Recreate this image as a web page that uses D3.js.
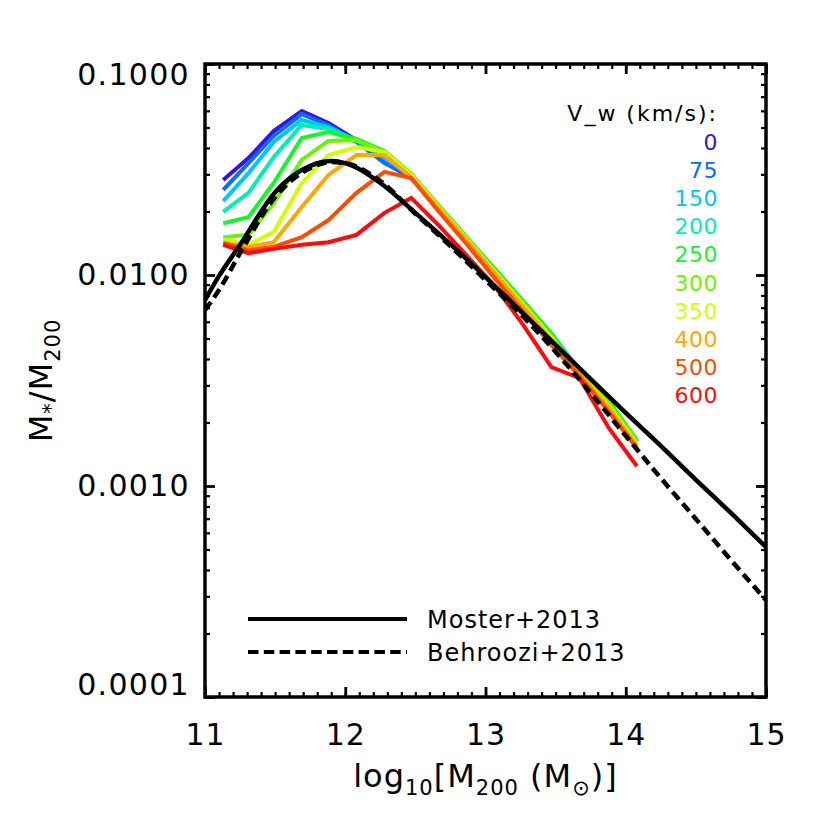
<!DOCTYPE html>
<html>
<head>
<meta charset="utf-8">
<script src="https://cdn.jsdelivr.net/npm/d3@7"></script>
<style>
body { margin: 0; background: #fff; }
text { font-family: "DejaVu Sans", sans-serif; fill: #000; }
</style>
</head>
<body>
<div class="smhm-figure"></div>
<script>
const w = 826;
const h = 826;

// halo mass bins of the simulation curves (log10 M200)
const haloMass = [11.13, 11.31, 11.49, 11.69, 11.88, 12.08, 12.28, 12.47, 12.67, 12.87, 13.07, 13.27, 13.47, 13.67, 13.88, 14.08];

// M*/M200 for each wind speed
const vw0   = [0.0282, 0.0358, 0.0481, 0.0599, 0.0525, 0.0436, 0.0343, 0.0288, 0.0208, 0.0147, 0.0102, 0.00721, 0.00508, 0.00347, 0.00242, 0.00162];
const vw75  = [0.0253, 0.0339, 0.0456, 0.0579, 0.0514, 0.0427, 0.0339, 0.0291, 0.0208, 0.0147, 0.0102, 0.00721, 0.00514, 0.00351, 0.00242, 0.00162];
const vw150 = [0.0224, 0.0304, 0.0427, 0.0543, 0.0503, 0.0432, 0.0358, 0.0294, 0.0210, 0.0148, 0.0104, 0.00737, 0.00525, 0.00355, 0.00245, 0.00163];
const vw200 = [0.0199, 0.0245, 0.0362, 0.0514, 0.0492, 0.0436, 0.0383, 0.0298, 0.0210, 0.0148, 0.0106, 0.00745, 0.00531, 0.00351, 0.00247, 0.00163];
const vw250 = [0.0176, 0.0188, 0.0273, 0.0446, 0.0476, 0.0441, 0.0387, 0.0301, 0.0212, 0.0150, 0.0106, 0.00753, 0.00525, 0.00347, 0.00253, 0.00165];
const vw300 = [0.0151, 0.0155, 0.0219, 0.0351, 0.0432, 0.0436, 0.0383, 0.0301, 0.0210, 0.0148, 0.0104, 0.00737, 0.00514, 0.00343, 0.00247, 0.00163];
const vw350 = [0.0147, 0.0139, 0.0160, 0.0273, 0.0370, 0.0404, 0.0383, 0.0298, 0.0208, 0.0147, 0.0103, 0.00721, 0.00503, 0.00340, 0.00239, 0.00158];
const vw400 = [0.0142, 0.0136, 0.0143, 0.0210, 0.0298, 0.0370, 0.0370, 0.0291, 0.0206, 0.0145, 0.0101, 0.00705, 0.00492, 0.00340, 0.00234, 0.00155];
const vw500 = [0.0142, 0.0131, 0.0136, 0.0151, 0.0182, 0.0245, 0.0308, 0.0288, 0.0199, 0.0139, 0.00957, 0.00668, 0.00466, 0.00332, 0.00224, 0.00151];
const vw600 = [0.0139, 0.0127, 0.0133, 0.0139, 0.0143, 0.0155, 0.0197, 0.0232, 0.0171, 0.0123, 0.00877, 0.00579, 0.00366, 0.00325, 0.00188, 0.00124];

const windSpeeds = ["0", "75", "150", "200", "250", "300", "350", "400", "500", "600"];
const windColors = ["#3512e6", "#0a6cff", "#00c6ff", "#00efb4", "#14f52a", "#6cf500", "#d4ff00", "#ffa600", "#ff4a00", "#ff0a0a"];
const windRatios = [vw0, vw75, vw150, vw200, vw250, vw300, vw350, vw400, vw500, vw600];

// abundance matching relations
const mosterMass  = [11.0, 11.1, 11.25, 11.5, 11.75, 11.9, 12.0, 12.25, 12.5, 12.75, 13.0, 13.25, 13.5, 13.75, 14.0, 14.25, 14.5, 14.75, 15.0];
const mosterRatio = [0.00761, 0.0099, 0.0139, 0.0247, 0.0329, 0.0347, 0.0339, 0.0273, 0.0197, 0.0140, 0.00978, 0.00675, 0.00466, 0.00321, 0.00222, 0.00155, 0.00107, 0.000745, 0.000514];
const behrooziMass  = [11.0, 11.1, 11.25, 11.5, 11.75, 11.9, 12.0, 12.25, 12.5, 12.75, 13.0, 13.25, 13.5, 13.75, 14.0, 14.25, 14.5, 14.75, 15.0];
const behrooziRatio = [0.00682, 0.00849, 0.0127, 0.0234, 0.0321, 0.0343, 0.0339, 0.0279, 0.0195, 0.0137, 0.00947, 0.00653, 0.00432, 0.00276, 0.00173, 0.00109, 0.000698, 0.000446, 0.000288];

const xMajor = [11, 12, 13, 14, 15];
const yMajor = [0.1, 0.01, 0.001, 0.0001];
const xMinor = d3.range(110, 151).map(d => d / 10);
let yMinor = [];
[1e-4, 1e-3, 1e-2].forEach(p => { for (let k = 2; k < 10; k++) yMinor.push(k * p); });

const legendNames = ["Moster+2013", "Behroozi+2013"];

let svg = d3.select("body").select(".smhm-figure")
    .append("svg")
    .attr("width", w)
    .attr("height", h);

let x = d3.scaleLinear().domain([11, 15]).range([205, 766]);
let y = d3.scaleLog().domain([0.0001, 0.1]).range([697, 64]);

svg.append("clipPath").attr("id", "plotclip")
    .append("rect")
    .attr("x", x.range()[0]).attr("y", y.range()[1])
    .attr("width", x.range()[1] - x.range()[0])
    .attr("height", y.range()[0] - y.range()[1]);

// axes, ticks pointing inward on all four sides
function ticks(axis, size, width) {
    return g => {
        g.call(axis.tickSize(size));
        g.select(".domain").remove();
        g.selectAll(".tick line").attr("stroke", "#000").attr("stroke-width", width);
    };
}

svg.append("g").attr("transform", `translate(0,${y.range()[0]})`)
    .call(ticks(d3.axisBottom(x).tickValues(xMinor).tickFormat(""), -5, 2.2));
svg.append("g").attr("transform", `translate(0,${y.range()[1]})`)
    .call(ticks(d3.axisTop(x).tickValues(xMinor).tickFormat(""), -5, 2.2));
svg.append("g").attr("transform", `translate(0,${y.range()[1]})`)
    .call(ticks(d3.axisTop(x).tickValues(xMajor).tickFormat(""), -10, 2.8));
svg.append("g").attr("transform", `translate(${x.range()[0]},0)`)
    .call(ticks(d3.axisLeft(y).tickValues(yMinor).tickFormat(""), -5, 2.2));
svg.append("g").attr("transform", `translate(${x.range()[1]},0)`)
    .call(ticks(d3.axisRight(y).tickValues(yMinor).tickFormat(""), -5, 2.2));
svg.append("g").attr("transform", `translate(${x.range()[1]},0)`)
    .call(ticks(d3.axisRight(y).tickValues(yMajor).tickFormat(""), -10, 2.8));

let xAxis = svg.append("g").attr("transform", `translate(0,${y.range()[0]})`)
    .call(ticks(d3.axisBottom(x).tickValues(xMajor).tickFormat(d3.format("d")).tickPadding(27), -10, 2.8));
xAxis.selectAll("text").attr("font-size", 30).attr("letter-spacing", 1)
    .attr("font-family", "DejaVu Sans").attr("fill", "#000");

let yAxis = svg.append("g").attr("transform", `translate(${x.range()[0]},0)`)
    .call(ticks(d3.axisLeft(y).tickValues(yMajor).tickFormat(d3.format(".4f")).tickPadding(15), -10, 2.8));
yAxis.selectAll("text").attr("font-size", 30).attr("letter-spacing", 1.3)
    .attr("font-family", "DejaVu Sans").attr("fill", "#000");
// first and last labels sit inside the frame
yAxis.selectAll("text").filter(d => d === 0.1).attr("y", 11);
yAxis.selectAll("text").filter(d => d === 0.0001).attr("y", -12);

// simulation curves
let line = d3.line()
    .x((d, i) => x(haloMass[i]))
    .y(d => y(d));

svg.append("g").attr("clip-path", "url(#plotclip)")
    .selectAll("path")
    .data(windRatios)
    .enter()
    .append("path")
    .attr("d", line)
    .attr("fill", "none")
    .attr("stroke", (d, i) => windColors[i])
    .attr("stroke-width", 4)
    .attr("stroke-linejoin", "miter");

// Moster / Behroozi
let modelLine = d3.line().curve(d3.curveMonotoneX)
    .x(d => x(d[0]))
    .y(d => y(d[1]));

let models = svg.append("g").attr("clip-path", "url(#plotclip)");
models.append("path")
    .attr("d", modelLine(d3.zip(mosterMass, mosterRatio)))
    .attr("fill", "none").attr("stroke", "#000").attr("stroke-width", 4.5);
models.append("path")
    .attr("d", modelLine(d3.zip(behrooziMass, behrooziRatio)))
    .attr("fill", "none").attr("stroke", "#000").attr("stroke-width", 4.5)
    .attr("stroke-dasharray", "10,5.5");

// frame
svg.append("rect")
    .attr("x", x.range()[0]).attr("y", y.range()[1])
    .attr("width", x.range()[1] - x.range()[0])
    .attr("height", y.range()[0] - y.range()[1])
    .attr("fill", "none").attr("stroke", "#000").attr("stroke-width", 3.5);

// wind speed legend
let windLegend = svg.append("g").attr("font-size", 22).attr("text-anchor", "end");
windLegend.append("text")
    .attr("x", 718).attr("y", 121)
    .attr("letter-spacing", 2)
    .text("V_w (km/s):");
windLegend.selectAll("text.speed")
    .data(windSpeeds)
    .enter()
    .append("text")
    .attr("class", "speed")
    .attr("x", 718)
    .attr("y", (d, i) => 149.5 + i * 28.2)
    .attr("letter-spacing", 0.5)
    .style("fill", (d, i) => windColors[i])
    .text(d => d);

// model legend
let modelLegend = svg.append("g");
legendNames.forEach((name, i) => {
    let ly = 619 + i * 33;
    modelLegend.append("line")
        .attr("x1", 248).attr("x2", 407)
        .attr("y1", ly).attr("y2", ly)
        .attr("stroke", "#000").attr("stroke-width", 4)
        .attr("stroke-dasharray", i === 1 ? "10.5,5.3" : null);
    modelLegend.append("text")
        .attr("x", 427).attr("y", ly + 8.5)
        .attr("font-size", 24).attr("letter-spacing", 1)
        .text(name);
});

// axis titles
let xTitle = svg.append("text")
    .attr("x", (x.range()[0] + x.range()[1]) / 2)
    .attr("y", 787)
    .attr("text-anchor", "middle")
    .attr("font-size", 32)
    .attr("letter-spacing", 1);
xTitle.append("tspan").text("log");
xTitle.append("tspan").attr("font-size", 21).attr("dy", 8).text("10");
xTitle.append("tspan").attr("dy", -8).text("[M");
xTitle.append("tspan").attr("font-size", 21).attr("dy", 8).text("200");
xTitle.append("tspan").attr("dy", -8).text(" (M");
xTitle.append("tspan").attr("font-size", 21).attr("dy", 8).text("⊙");
xTitle.append("tspan").attr("dy", -8).text(")]");

let yTitle = svg.append("text")
    .attr("transform", `translate(52,${(y.range()[0] + y.range()[1]) / 2}) rotate(-90)`)
    .attr("text-anchor", "middle")
    .attr("font-size", 32)
    .attr("letter-spacing", 1);
yTitle.append("tspan").text("M");
yTitle.append("tspan").attr("font-size", 21).attr("dy", 6).text("*");
yTitle.append("tspan").attr("dy", -6).text("/M");
yTitle.append("tspan").attr("font-size", 21).attr("dy", 8).text("200");
</script>
</body>
</html>
